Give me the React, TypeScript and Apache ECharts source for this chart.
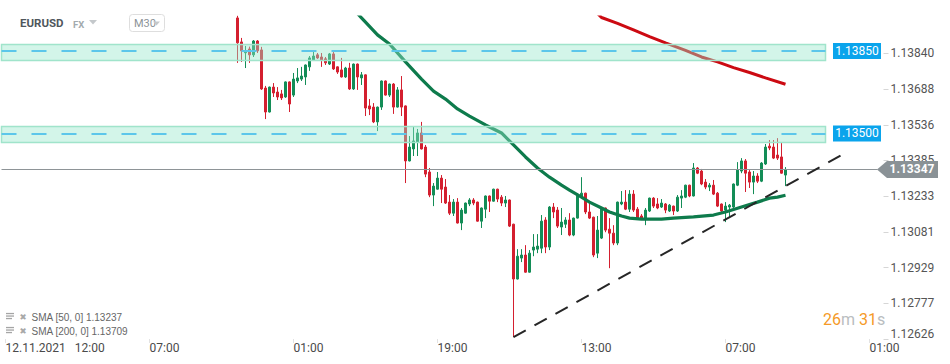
import React, { useEffect, useRef } from 'react';
import * as echarts from 'echarts';

// ---- data ----
const N_CAT = 221;
const CANDLE_OFFSET = 59;
const X_LABEL_INDEX = [1, 37, 73, 109, 145, 181, 217];
const X_LABEL_TEXT = ['12.11.2021|12:00', '07:00', '01:00', '19:00', '13:00', '07:00', '01:00'];
const Y_MIN = 1.12626;
const Y_MAX = 1.13995;
const Y_TICKS = [1.12626, 1.12777, 1.12929, 1.13081, 1.13233, 1.13385, 1.13536, 1.13688, 1.1384];

// [open, close, low, high]
const CANDLES = [
  [1.13991, 1.13885, 1.138, 1.14],
  [1.13889, 1.13851, 1.13804, 1.13906],
  [1.13843, 1.13852, 1.13778, 1.13872],
  [1.13859, 1.13834, 1.138, 1.13869],
  [1.13834, 1.13893, 1.13825, 1.13897],
  [1.13893, 1.13851, 1.13842, 1.13897],
  [1.13855, 1.13689, 1.13685, 1.13868],
  [1.13693, 1.13591, 1.13561, 1.13702],
  [1.13591, 1.13697, 1.13589, 1.13699],
  [1.13697, 1.13672, 1.13655, 1.13714],
  [1.13676, 1.13655, 1.13642, 1.13697],
  [1.13668, 1.13651, 1.13642, 1.13685],
  [1.13655, 1.13719, 1.13651, 1.13721],
  [1.13719, 1.13625, 1.13591, 1.13721],
  [1.13663, 1.13731, 1.13655, 1.13757],
  [1.13723, 1.13736, 1.13714, 1.13778],
  [1.13731, 1.13744, 1.13723, 1.13783],
  [1.1374, 1.13791, 1.13706, 1.13793],
  [1.13783, 1.13821, 1.13766, 1.13829],
  [1.13812, 1.13829, 1.1381, 1.13851],
  [1.13834, 1.13821, 1.13817, 1.13842],
  [1.13825, 1.13812, 1.13783, 1.13842],
  [1.13817, 1.138, 1.13791, 1.13825],
  [1.13795, 1.13838, 1.13791, 1.13842],
  [1.13838, 1.13774, 1.1377, 1.13846],
  [1.13783, 1.13761, 1.13753, 1.13785],
  [1.1377, 1.1374, 1.13738, 1.13821],
  [1.1374, 1.13778, 1.13736, 1.13783],
  [1.13778, 1.13689, 1.13685, 1.138],
  [1.13689, 1.13795, 1.13685, 1.13797],
  [1.13795, 1.1374, 1.13685, 1.13797],
  [1.13736, 1.13749, 1.13706, 1.13761],
  [1.13749, 1.13608, 1.13574, 1.13751],
  [1.13617, 1.13604, 1.13578, 1.13646],
  [1.13612, 1.13549, 1.13544, 1.13629],
  [1.13549, 1.13612, 1.1351, 1.13614],
  [1.13612, 1.13723, 1.136, 1.13725],
  [1.13723, 1.13663, 1.13661, 1.13725],
  [1.13663, 1.1371, 1.13655, 1.13712],
  [1.1371, 1.13612, 1.13583, 1.13714],
  [1.13612, 1.13685, 1.1361, 1.13697],
  [1.13685, 1.13612, 1.13574, 1.13744],
  [1.13617, 1.13383, 1.13289, 1.13619],
  [1.13383, 1.13442, 1.13381, 1.13489],
  [1.13434, 1.13468, 1.13404, 1.13527],
  [1.13463, 1.13502, 1.13404, 1.13519],
  [1.13502, 1.13434, 1.13432, 1.13549],
  [1.13442, 1.13327, 1.13314, 1.13451],
  [1.13336, 1.13238, 1.13229, 1.13353],
  [1.13238, 1.13276, 1.13191, 1.13289],
  [1.13263, 1.1331, 1.13261, 1.13336],
  [1.1331, 1.13263, 1.13204, 1.13323],
  [1.13272, 1.13204, 1.132, 1.13306],
  [1.13208, 1.13161, 1.13153, 1.13238],
  [1.13161, 1.13208, 1.13149, 1.13221],
  [1.13208, 1.13119, 1.13117, 1.13225],
  [1.13119, 1.13174, 1.13089, 1.13183],
  [1.13161, 1.13204, 1.13159, 1.13206],
  [1.132, 1.13217, 1.13191, 1.13225],
  [1.13217, 1.13204, 1.13195, 1.13225],
  [1.13208, 1.13127, 1.13125, 1.1321],
  [1.13127, 1.13183, 1.13098, 1.13185],
  [1.13178, 1.13234, 1.1314, 1.13236],
  [1.13234, 1.13212, 1.13166, 1.13236],
  [1.13212, 1.13263, 1.1321, 1.13265],
  [1.13263, 1.13221, 1.13208, 1.13265],
  [1.13229, 1.13204, 1.13191, 1.13238],
  [1.13204, 1.13217, 1.13187, 1.13234],
  [1.13217, 1.13106, 1.13102, 1.13219],
  [1.13114, 1.12881, 1.12634, 1.13116],
  [1.12881, 1.12978, 1.12879, 1.13008],
  [1.1297, 1.12983, 1.12953, 1.13008],
  [1.12983, 1.1291, 1.12908, 1.13025],
  [1.1291, 1.12991, 1.12908, 1.13004],
  [1.13004, 1.13017, 1.12978, 1.13072],
  [1.13008, 1.13021, 1.12991, 1.13072],
  [1.13012, 1.13127, 1.12991, 1.13153],
  [1.13132, 1.13017, 1.12991, 1.13144],
  [1.13017, 1.13187, 1.13004, 1.13191],
  [1.13187, 1.13166, 1.1314, 1.13204],
  [1.13174, 1.13106, 1.13098, 1.13187],
  [1.13102, 1.13123, 1.13068, 1.13183],
  [1.13114, 1.13132, 1.13098, 1.13144],
  [1.13132, 1.13068, 1.13063, 1.13161],
  [1.13068, 1.1314, 1.13063, 1.13142],
  [1.1314, 1.13238, 1.13138, 1.13246],
  [1.13229, 1.13246, 1.13225, 1.13314],
  [1.13246, 1.13166, 1.13157, 1.13248],
  [1.13166, 1.1314, 1.13136, 1.13204],
  [1.13144, 1.12983, 1.12974, 1.13146],
  [1.12991, 1.13089, 1.1297, 1.13149],
  [1.13055, 1.13183, 1.13051, 1.13187],
  [1.13183, 1.13089, 1.1308, 1.13185],
  [1.13093, 1.13076, 1.12927, 1.1314],
  [1.13076, 1.13034, 1.13025, 1.1311],
  [1.13034, 1.13208, 1.13025, 1.1321],
  [1.132, 1.13208, 1.13195, 1.13255],
  [1.13208, 1.13178, 1.13174, 1.13259],
  [1.13178, 1.13242, 1.13166, 1.13259],
  [1.13242, 1.13174, 1.13166, 1.13259],
  [1.13178, 1.1314, 1.13138, 1.13187],
  [1.13149, 1.13136, 1.13132, 1.13157],
  [1.13136, 1.13174, 1.1311, 1.13183],
  [1.1317, 1.13225, 1.13166, 1.13227],
  [1.13225, 1.13191, 1.13183, 1.13229],
  [1.132, 1.13183, 1.13178, 1.13225],
  [1.13187, 1.13204, 1.13183, 1.13221],
  [1.132, 1.13174, 1.13161, 1.13204],
  [1.1317, 1.13195, 1.13166, 1.132],
  [1.13191, 1.1317, 1.13153, 1.13193],
  [1.1317, 1.13229, 1.13166, 1.13238],
  [1.13225, 1.13234, 1.13183, 1.13259],
  [1.13229, 1.1328, 1.13225, 1.13282],
  [1.1328, 1.13234, 1.13229, 1.13282],
  [1.13234, 1.13353, 1.13232, 1.13374],
  [1.13353, 1.13331, 1.13327, 1.13357],
  [1.1334, 1.13285, 1.1328, 1.13349],
  [1.13293, 1.13272, 1.13263, 1.13306],
  [1.13272, 1.1328, 1.13255, 1.13289],
  [1.1328, 1.13242, 1.13238, 1.13302],
  [1.13246, 1.13191, 1.13187, 1.13251],
  [1.132, 1.1317, 1.13161, 1.13202],
  [1.13174, 1.13191, 1.13123, 1.13208],
  [1.13187, 1.13195, 1.13144, 1.132],
  [1.13187, 1.13285, 1.13183, 1.13287],
  [1.1328, 1.13344, 1.13276, 1.13378],
  [1.1334, 1.13383, 1.13331, 1.13395],
  [1.13383, 1.13331, 1.13251, 1.13391],
  [1.13336, 1.13293, 1.13268, 1.13344],
  [1.13293, 1.13319, 1.13242, 1.1334],
  [1.13319, 1.13297, 1.13289, 1.13331],
  [1.13297, 1.13374, 1.13293, 1.13378],
  [1.1337, 1.13442, 1.13366, 1.13455],
  [1.13446, 1.13438, 1.13429, 1.13472],
  [1.13442, 1.13395, 1.13391, 1.13472],
  [1.13408, 1.13395, 1.13387, 1.1348],
  [1.134, 1.13331, 1.13329, 1.13463],
  [1.13323, 1.13347, 1.13276, 1.13357],
];

// [candle index, value]
const SMA50 = [
  [30, 1.1401], [31, 1.13991], [35, 1.13919], [38, 1.1388], [42, 1.13804], [46, 1.13731],
  [49, 1.1368], [52, 1.13646], [55, 1.13604], [58, 1.13574], [62, 1.13536], [66, 1.13502],
  [69, 1.13451], [72, 1.134], [75, 1.13353], [78, 1.13314], [81, 1.1328], [83, 1.13259],
  [86, 1.13229], [88, 1.13208], [91, 1.13183], [93, 1.13166], [96, 1.13149], [98, 1.1314],
  [101, 1.13136], [106, 1.13136], [109, 1.1314], [114, 1.13145], [119, 1.13153], [122, 1.13166],
  [126, 1.13187], [130, 1.13208], [133, 1.13225], [135, 1.13229], [137, 1.13237],
];
const SMA200 = [
  [90, 1.1401], [91, 1.13993], [95, 1.13968], [99, 1.1394], [103, 1.13912], [107, 1.13885],
  [112, 1.13853], [116, 1.13825], [120, 1.13804], [124, 1.1378], [128, 1.13759], [132, 1.13736],
  [137, 1.13709],
];

const LEVEL_PRICES = [1.1385, 1.135];
const LEVEL_LOW = [1.1381, 1.13461];
const LEVEL_HIGH = [1.13878, 1.13529];
const LEVEL_END_INDEX = 206;
const CURRENT_PRICE = 1.13347;
// [candle index, price]
const TREND = [[69, 1.12634], [151, 1.13408]];
const LEGEND_ROWS = ['SMA [50, 0] 1.13237', 'SMA [200, 0] 1.13709'];
const TIMER = ['26', 'm', '31', 's'];

const CATEGORIES = Array.from({ length: N_CAT }, (_, i) => String(i));

export default function App() {
  const ref = useRef<HTMLDivElement>(null);

  useEffect(() => {
    const chart = echarts.init(ref.current!, null, { renderer: 'svg' });
    const showIdx = (i: number) => X_LABEL_INDEX.includes(i);
    const font = 'Roboto';

    const option: any = {
      animation: false,
      backgroundColor: '#ffffff',
      grid: { left: -0.5, top: 17, width: 884, height: 322, containLabel: false, outerBoundsMode: 'none' },
      xAxis: {
        type: 'category',
        data: CATEGORIES,
        boundaryGap: true,
        axisLine: { show: false },
        splitLine: { show: false },
        axisTick: { show: true, interval: showIdx, alignWithLabel: true, length: 4, lineStyle: { color: '#e2e2e2' } },
        axisLabel: {
          interval: showIdx,
          align: 'left',
          margin: 3,
          color: '#4a4a4a',
          fontSize: 12,
          fontFamily: font,
          formatter: (_v: string, index: number) => {
            const t = X_LABEL_TEXT[X_LABEL_INDEX.indexOf(index)] || '';
            if (t.includes('|')) {
              const [d, h] = t.split('|');
              return `{d|${d}}{t|${h}}`;
            }
            return t;
          },
          rich: {
            d: { fontSize: 12, fontFamily: font, color: '#4a4a4a' },
            t: { fontSize: 12, fontFamily: font, color: '#4a4a4a', padding: [0, 0, 0, 9] },
          },
        },
      },
      yAxis: {
        type: 'value',
        position: 'right',
        min: Y_MIN,
        max: Y_MAX,
        splitLine: { show: false },
        axisLine: { show: false },
        axisTick: { show: true, length: 5, customValues: Y_TICKS, lineStyle: { color: '#d6d6d6' } },
        axisLabel: {
          customValues: Y_TICKS,
          margin: 7,
          color: '#555555',
          fontSize: 12,
          fontFamily: font,
          formatter: (v: number) => {
            const s = v.toFixed(5);
            return Math.abs(v - Y_MIN) < 1e-7 ? `{low|${s}}` : s;
          },
          rich: { low: { fontSize: 12, fontFamily: font, color: '#555555', padding: [0, 0, 11, 0] } },
        },
      },
      series: [
        {
          type: 'candlestick',
          name: 'EURUSD',
          z: 2,
          barWidth: 2,
          encode: { x: 0, y: [1, 2, 3, 4] },
          data: CANDLES.map((c, k) => [CANDLE_OFFSET + k, c[0], c[1], c[2], c[3]]),
          itemStyle: {
            color: '#138d57',
            color0: '#d41f2f',
            borderColor: '#138d57',
            borderColor0: '#d41f2f',
            borderWidth: 1,
          },
        },
        {
          type: 'line',
          name: 'SMA50',
          z: 3,
          showSymbol: false,
          symbol: 'none',
          data: SMA50.map(([k, v]) => [CANDLE_OFFSET + k, v]),
          lineStyle: { color: '#0e7b4c', width: 3.2 },
        },
        {
          type: 'line',
          name: 'SMA200',
          z: 3,
          showSymbol: false,
          symbol: 'none',
          data: SMA200.map(([k, v]) => [CANDLE_OFFSET + k, v]),
          lineStyle: { color: '#cc0a12', width: 3 },
        },
        {
          type: 'line',
          name: 'levels',
          z: 4,
          data: [],
          markArea: {
            z: 4,
            silent: true,
            itemStyle: { color: 'rgba(150,230,202,0.42)', borderColor: '#a0e4cb', borderWidth: 1.5 },
            label: { show: false },
            data: LEVEL_PRICES.map((_, i) => [
              { coord: [0, LEVEL_HIGH[i]] },
              { coord: [LEVEL_END_INDEX, LEVEL_LOW[i]] },
            ]),
          },
          markLine: {
            z: 5,
            silent: true,
            symbol: ['none', 'none'],
            label: { show: false },
            data: [
              ...LEVEL_PRICES.map((p) => [
                { coord: [0, p], lineStyle: { color: '#5cc6ea', width: 1.8, type: [15, 15] } },
                { coord: [LEVEL_END_INDEX, p] },
              ]),
              [
                { coord: [0, CURRENT_PRICE], lineStyle: { color: '#8e9497', width: 1, type: 'solid' } },
                { coord: [N_CAT - 2, CURRENT_PRICE] },
              ],
              [
                { coord: [CANDLE_OFFSET + TREND[0][0], TREND[0][1]], lineStyle: { color: '#262626', width: 2, type: [14, 10] } },
                { coord: [CANDLE_OFFSET + TREND[1][0], TREND[1][1]] },
              ],
            ],
          },
        },
      ],
    };
    chart.setOption(option);

    const yOf = (p: number) => chart.convertToPixel({ yAxisIndex: 0 }, p) as number;
    const graphics: any[] = [];

    // level tags
    LEVEL_PRICES.forEach((p) => {
      const y = yOf(p);
      graphics.push({
        type: 'rect', z: 20, shape: { x: 833, y: y - 8, width: 48, height: 16 }, style: { fill: '#0aa4ec' },
      });
      graphics.push({
        type: 'text', z: 21, x: 857, y: y,
        style: { text: p.toFixed(5), fill: '#ffffff', fontSize: 12, fontFamily: font, align: 'center', verticalAlign: 'middle', textAlign: 'center', textVerticalAlign: 'middle' },
      });
    });

    // current price tag
    const yc = yOf(CURRENT_PRICE);
    graphics.push({
      type: 'polygon', z: 20,
      shape: { points: [[877, yc], [887, yc - 8.5], [938, yc - 8.5], [938, yc + 8.5], [887, yc + 8.5]] },
      style: { fill: '#8a9296' },
    });
    graphics.push({
      type: 'text', z: 21, x: 912, y: yc,
      style: { text: CURRENT_PRICE.toFixed(5), fill: '#ffffff', fontSize: 12, fontWeight: 'bold', fontFamily: font, align: 'center', verticalAlign: 'middle', textAlign: 'center', textVerticalAlign: 'middle' },
    });

    // header
    graphics.push({
      type: 'text', z: 30, x: 20, y: 23,
      style: { text: 'EURUSD', fill: '#4f565c', fontSize: 11.5, fontWeight: 'bold', fontFamily: font, verticalAlign: 'middle', textVerticalAlign: 'middle' },
    });
    graphics.push({
      type: 'text', z: 30, x: 73, y: 24,
      style: { text: 'FX', fill: '#a3aaae', fontSize: 9.5, fontWeight: 'bold', fontFamily: font, verticalAlign: 'middle', textVerticalAlign: 'middle' },
    });
    graphics.push({
      type: 'polygon', z: 30, shape: { points: [[89, 20], [97, 20], [93, 24.5]] }, style: { fill: '#c4c8cb' },
    });
    graphics.push({
      type: 'rect', z: 30, shape: { x: 129.5, y: 14.5, width: 35, height: 17, r: 3 },
      style: { fill: '#ffffff', stroke: '#dedede', lineWidth: 1 },
    });
    graphics.push({
      type: 'text', z: 31, x: 134, y: 23.5,
      style: { text: 'M30', fill: '#8c9398', fontSize: 11, fontFamily: font, verticalAlign: 'middle', textVerticalAlign: 'middle' },
    });
    graphics.push({
      type: 'polygon', z: 31, shape: { points: [[153, 21.5], [160, 21.5], [156.5, 25.5]] }, style: { fill: '#c4c8cb' },
    });

    // legend rows
    LEGEND_ROWS.forEach((t, i) => {
      const y = 317.5 + i * 14;
      [-4, -1.5, 1].forEach((dy, j) => {
        graphics.push({
          type: 'rect', z: 30, shape: { x: 6, y: y + dy - 0.6, width: j === 2 ? 6 : 8, height: 1.3 }, style: { fill: '#a5a5a5' },
        });
      });
      graphics.push({
        type: 'text', z: 30, x: 19.5, y: y - 0.5,
        style: { text: '\u2716', fill: '#a8a8a8', fontSize: 8.5, fontFamily: 'DejaVu Sans', verticalAlign: 'middle', textVerticalAlign: 'middle' },
      });
      graphics.push({
        type: 'text', z: 30, x: 31.5, y: y,
        style: { text: t, fill: '#666666', fontSize: 10, fontFamily: 'Liberation Sans', verticalAlign: 'middle', textVerticalAlign: 'middle' },
      });
    });

    // timer
    graphics.push({
      type: 'text', z: 30, x: 823, y: 319.5,
      style: {
        text: `{o|${TIMER[0]}}{g|${TIMER[1]}} {o|${TIMER[2]}}{g|${TIMER[3]}}`,
        verticalAlign: 'middle', textVerticalAlign: 'middle',
        fontSize: 16, fontFamily: font,
        rich: {
          o: { fill: '#f59a27', color: '#f59a27', fontSize: 16, fontFamily: font },
          g: { fill: '#b9bdc0', color: '#b9bdc0', fontSize: 16, fontFamily: font },
        },
      },
    });

    chart.setOption({ graphic: graphics });

    return () => chart.dispose();
  }, []);

  return (
    <div
      ref={ref}
      style={{ position: 'fixed', left: 0, top: 0, width: 950, height: 364, background: '#ffffff' }}
    />
  );
}
